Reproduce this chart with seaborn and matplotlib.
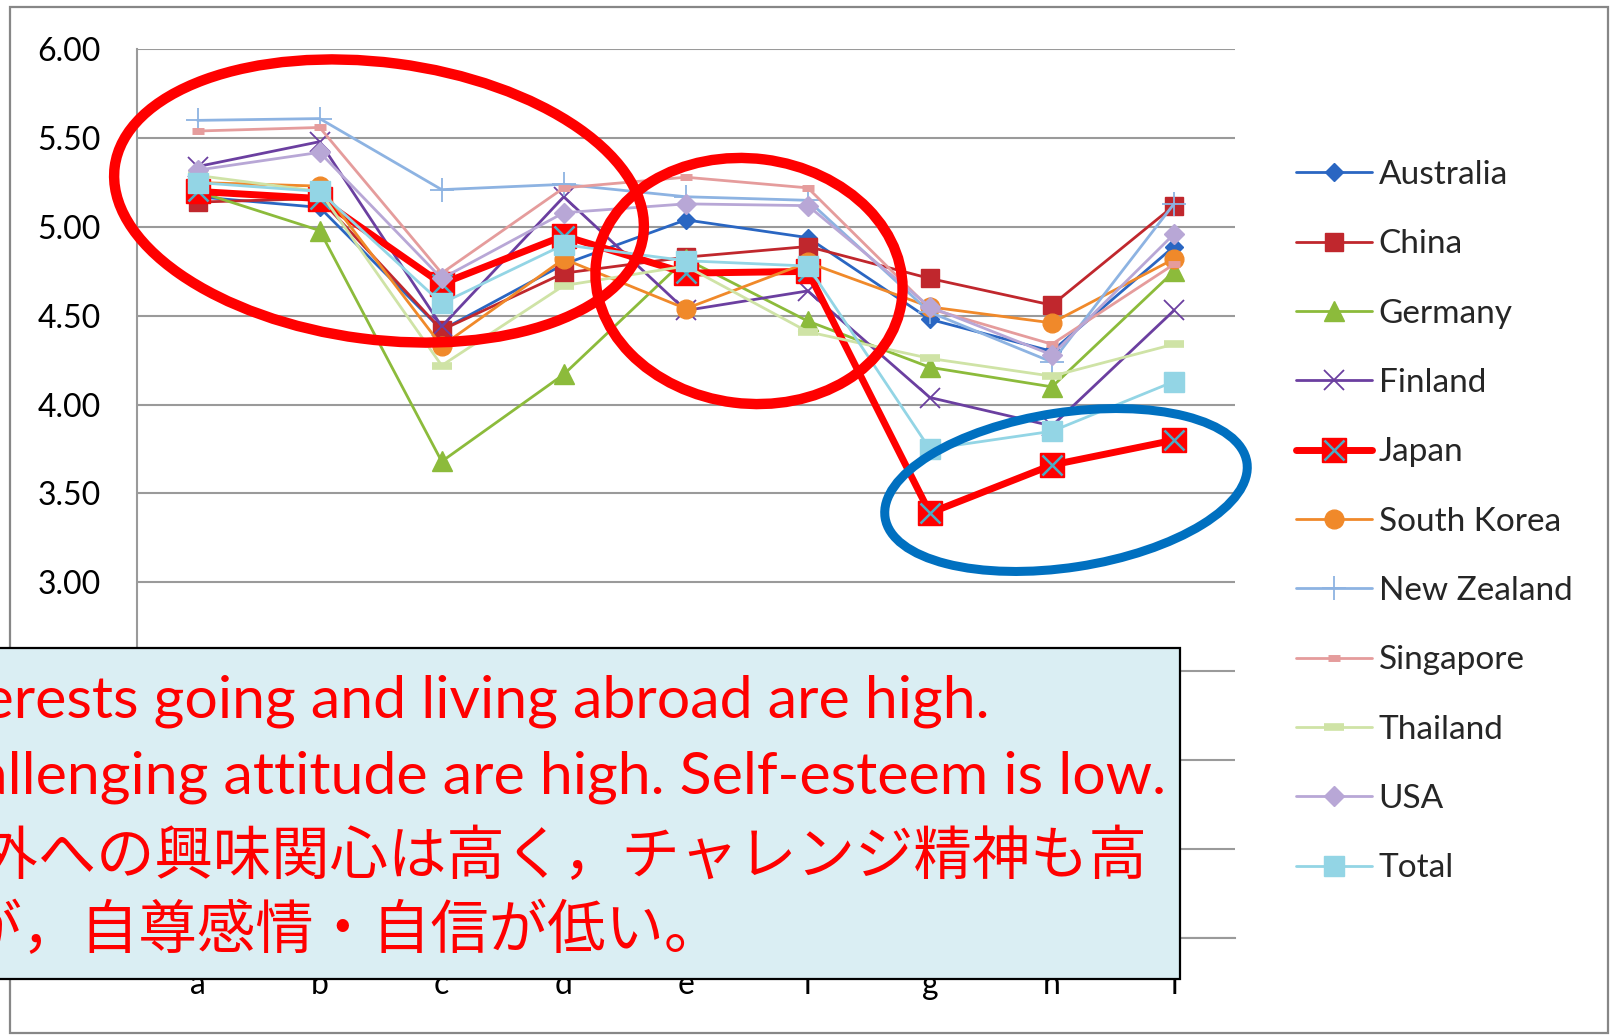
import numpy as np
import pandas as pd
import matplotlib
matplotlib.use('Agg')
import matplotlib.pyplot as plt
import seaborn as sns
from matplotlib.patches import Ellipse, Rectangle
from matplotlib.legend_handler import HandlerTuple
from matplotlib.ticker import FixedLocator, FormatStrFormatter

# --- data ---
items = ['a', 'b', 'c', 'd', 'e', 'f', 'g', 'h', 'i']

australia = [5.17, 5.11, 4.42, 4.79, 5.04, 4.94, 4.48, 4.30, 4.89]
china = [5.14, 5.16, 4.42, 4.74, 4.83, 4.89, 4.71, 4.56, 5.12]
germany = [5.20, 4.98, 3.68, 4.17, 4.82, 4.47, 4.21, 4.10, 4.75]
finland = [5.34, 5.48, 4.44, 5.17, 4.53, 4.64, 4.04, 3.88, 4.53]
japan = [5.20, 5.16, 4.68, 4.95, 4.74, 4.75, 3.39, 3.66, 3.80]
south_korea = [5.25, 5.23, 4.33, 4.82, 4.54, 4.80, 4.55, 4.46, 4.82]
new_zealand = [5.60, 5.61, 5.21, 5.24, 5.17, 5.15, 4.52, 4.24, 5.13]
singapore = [5.54, 5.56, 4.74, 5.22, 5.28, 5.22, 4.54, 4.34, 4.79]
thailand = [5.29, 5.20, 4.22, 4.67, 4.78, 4.41, 4.26, 4.16, 4.34]
usa = [5.32, 5.42, 4.71, 5.08, 5.13, 5.12, 4.55, 4.28, 4.96]
total = [5.25, 5.20, 4.57, 4.90, 4.81, 4.78, 3.75, 3.85, 4.13]

countries = ['Australia', 'China', 'Germany', 'Finland', 'Japan', 'South Korea',
             'New Zealand', 'Singapore', 'Thailand', 'USA', 'Total']
values = [australia, china, germany, finland, japan, south_korea,
          new_zealand, singapore, thailand, usa, total]

note_lines = ['Interests going and living abroad are high.',
              'Challenging attitude are high. Self-esteem is low.',
              '海外への興味関心は高く，チャレンジ精神も高',
              'いが，自尊感情・自信が低い。']

df = pd.DataFrame({
    'country': np.repeat(countries, len(items)),
    'item': items * len(countries),
    'score': np.concatenate(values),
})

# line styles: color, marker, markersize, markeredgewidth, linewidth
styles = {
    'Australia':   ('#2A66C2', 'D', 9, 1.0, 2.0),
    'China':       ('#C0272D', 's', 13, 1.0, 2.0),
    'Germany':     ('#8CBB3B', '^', 14, 1.0, 2.0),
    'Finland':     ('#6B3FA0', 'x', 14, 1.3, 2.0),
    'Japan':       ('#FF0000', 's', 17, 1.0, 5.0),
    'South Korea': ('#F0892A', 'o', 13.5, 1.0, 2.0),
    'New Zealand': ('#8DB3E2', '+', 17, 1.3, 2.0),
    'Singapore':   ('#E59C9C', '_', 9, 5.0, 2.0),
    'Thailand':    ('#CFE3A6', '_', 14, 5.5, 2.0),
    'USA':         ('#B8A7D6', 'D', 10, 1.0, 2.0),
    'Total':       ('#93D5E5', 's', 14, 1.0, 2.0),
}

sns.set_style('white')
plt.rcParams['font.family'] = ['Lato', 'Noto Sans CJK JP', 'DejaVu Sans']

W, H = 1610, 1035
fig = plt.figure(figsize=(16.1, 10.35), dpi=100)
ax = fig.add_axes([136.6 / W, 1 - 937.6 / H, (1235 - 136.6) / W, (937.6 - 49.3) / H])

gray = '#9A9A9A'
handles = []
for c in countries:
    color, mk, ms, mew, lw = styles[c]
    sub = df[df['country'] == c]
    sns.lineplot(data=sub, x='item', y='score', ax=ax, color=color, lw=lw,
                 marker=mk, markersize=ms, markeredgewidth=mew,
                 markeredgecolor=color, markerfacecolor=color,
                 errorbar=None, sort=False)
    h = ax.lines[-1]
    if c == 'Japan':
        # blue cross drawn over Japan's red squares
        sns.lineplot(data=sub, x='item', y='score', ax=ax, color='#4BACC6',
                     linestyle='none', marker='x', markersize=15,
                     markeredgewidth=1.8, markeredgecolor='#4BACC6',
                     errorbar=None, sort=False)
        h = (h, ax.lines[-1])
    handles.append(h)

ax.set_xlim(-0.5, 8.5)
ax.set_ylim(1, 6)
ax.set_yticks(np.arange(1, 6.01, 0.5))
ax.yaxis.set_major_formatter(FormatStrFormatter('%.2f'))
ax.yaxis.grid(True, color=gray, lw=1.5)
ax.set_xlabel('')
ax.set_ylabel('')
for s in ['top', 'right']:
    ax.spines[s].set_visible(False)
for s in ['left', 'bottom']:
    ax.spines[s].set_color(gray)
    ax.spines[s].set_linewidth(1.5)
ax.tick_params(axis='y', length=8, width=1.5, color=gray, pad=18,
               labelsize=23, labelcolor='black')
ax.tick_params(axis='x', which='major', length=0, pad=23, labelsize=23,
               labelcolor='black')
ax.xaxis.set_minor_locator(FixedLocator(np.arange(-0.5, 9, 1)))
ax.tick_params(axis='x', which='minor', length=11, width=1.5, color=gray)

fig.legend(handles, countries, loc='upper left',
           bbox_to_anchor=(1296 / W, 1 - 160 / H), frameon=False, fontsize=24,
           handlelength=2.28, handletextpad=0.2, labelspacing=1.18,
           borderpad=0, borderaxespad=0, numpoints=1,
           handler_map={tuple: HandlerTuple(ndivide=1)})

# overlay in pixel coordinates: frame, highlight ellipses, note box
ov = fig.add_axes([0, 0, 1, 1], zorder=10)
ov.set_xlim(0, W)
ov.set_ylim(H, 0)
ov.axis('off')
ov.patch.set_alpha(0)

ov.add_patch(Rectangle((10, 7), 1598, 1026, fill=False, ec='#878787', lw=1.6))
ov.add_patch(Ellipse((379, 201), 533, 277, angle=7.4, fill=False, ec='#FF0000', lw=7.5))
ov.add_patch(Ellipse((749, 281), 308, 245, angle=7.2, fill=False, ec='#FF0000', lw=7.5))
ov.add_patch(Ellipse((1066, 490), 366, 155, angle=-8.7, fill=False, ec='#0070C0', lw=6.5))

ov.add_patch(Rectangle((-30, 648), 1210, 331, fc='#DAEEF3', ec='black', lw=1.6))
ov.text(989, 717, note_lines[0], ha='right', va='baseline', color='#FF0000',
        fontsize=42.5, family=['Lato', 'DejaVu Sans'])
ov.text(1166, 794, note_lines[1], ha='right', va='baseline', color='#FF0000',
        fontsize=42.5, family=['Lato', 'DejaVu Sans'])
ov.text(1148, 874, note_lines[2], ha='right', va='baseline', color='#FF0000',
        fontsize=42, family=['Noto Sans CJK JP', 'DejaVu Sans'])
ov.text(723, 948, note_lines[3], ha='right', va='baseline', color='#FF0000',
        fontsize=42, family=['Noto Sans CJK JP', 'DejaVu Sans'])

fig.savefig('out.png', dpi=100)
